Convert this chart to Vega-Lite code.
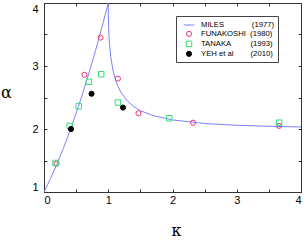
{
  "$schema": "https://vega.github.io/schema/vega-lite/v6.json",
  "width": 257,
  "height": 189,
  "autosize": {"type": "none"},
  "padding": {"left": 44, "top": 3, "right": 4, "bottom": 50},
  "background": "white",
  "config": {
    "view": {"stroke": "#333", "strokeWidth": 1},
    "axis": {
      "domainColor": "#333",
      "tickColor": "#333",
      "tickSize": -3,
      "labelFont": "Liberation Sans",
      "labelFontSize": 11,
      "labelColor": "black",
      "grid": false,
      "titleFont": "DejaVu Serif",
      "titleFontSize": 16,
      "titleFontWeight": "normal",
      "titleColor": "black"
    },
    "legend": {
      "orient": "none",
      "legendX": 132,
      "legendY": 13,
      "title": null,
      "padding": 3,
      "strokeColor": "#444",
      "fillColor": "white",
      "symbolOffset": 4,
      "labelOffset": 6,
      "rowPadding": 0,
      "symbolStrokeWidth": 1,
      "labelFont": "Liberation Sans",
      "labelFontSize": 7.7,
      "labelColor": "black",
      "labelLimit": 200
    }
  },
  "datasets": {
    "miles": [
      {"k": 0, "a": 1}, {"k": 0.1, "a": 1.21}, {"k": 0.2, "a": 1.44}, {"k": 0.3, "a": 1.69},
      {"k": 0.4, "a": 1.96}, {"k": 0.5, "a": 2.25}, {"k": 0.6, "a": 2.56}, {"k": 0.7, "a": 2.89},
      {"k": 0.8, "a": 3.24}, {"k": 0.9, "a": 3.61}, {"k": 1.0, "a": 4.0},
      {"k": 1.001, "a": 3.829}, {"k": 1.005, "a": 3.638}, {"k": 1.01, "a": 3.508},
      {"k": 1.02, "a": 3.342}, {"k": 1.04, "a": 3.138}, {"k": 1.07, "a": 2.95},
      {"k": 1.1, "a": 2.824}, {"k": 1.15, "a": 2.678}, {"k": 1.2, "a": 2.576},
      {"k": 1.3, "a": 2.44}, {"k": 1.4, "a": 2.353}, {"k": 1.5, "a": 2.291},
      {"k": 1.7, "a": 2.212}, {"k": 2.0, "a": 2.144}, {"k": 2.5, "a": 2.087},
      {"k": 3.0, "a": 2.059}, {"k": 3.5, "a": 2.043}, {"k": 4.0, "a": 2.032}
    ],
    "exp": [
      {"series": "FUNAKOSHI", "k": 0.195, "a": 1.45},
      {"series": "FUNAKOSHI", "k": 0.63, "a": 2.86},
      {"series": "FUNAKOSHI", "k": 0.88, "a": 3.45},
      {"series": "FUNAKOSHI", "k": 1.15, "a": 2.8},
      {"series": "FUNAKOSHI", "k": 1.47, "a": 2.25},
      {"series": "FUNAKOSHI", "k": 2.32, "a": 2.1},
      {"series": "FUNAKOSHI", "k": 3.66, "a": 2.05},
      {"series": "TANAKA", "k": 0.18, "a": 1.46},
      {"series": "TANAKA", "k": 0.4, "a": 2.05},
      {"series": "TANAKA", "k": 0.54, "a": 2.36},
      {"series": "TANAKA", "k": 0.7, "a": 2.75},
      {"series": "TANAKA", "k": 0.89, "a": 2.87},
      {"series": "TANAKA", "k": 1.15, "a": 2.42},
      {"series": "TANAKA", "k": 1.95, "a": 2.17},
      {"series": "TANAKA", "k": 3.66, "a": 2.1},
      {"series": "YEH et al", "k": 0.42, "a": 2.0},
      {"series": "YEH et al", "k": 0.74, "a": 2.56},
      {"series": "YEH et al", "k": 1.23, "a": 2.34}
    ]
  },
  "layer": [
    {
      "data": {"name": "miles"},
      "mark": {"type": "line", "color": "#8080ff", "strokeWidth": 1},
      "encoding": {
        "x": {
          "field": "k", "type": "quantitative",
          "scale": {"domain": [0, 4], "nice": false, "zero": false},
          "axis": {
            "orient": "bottom",
            "values": [0, 0.5, 1, 1.5, 2, 2.5, 3, 3.5, 4],
            "labelExpr": "datum.value % 1 === 0 ? format(datum.value, 'd') : ''",
            "labelPadding": 5,
            "title": "κ",
            "titleX": 132,
            "titleY": 38,
            "titleAlign": "center",
            "titleBaseline": "middle"
          }
        },
        "y": {
          "field": "a", "type": "quantitative",
          "scale": {"domain": [1, 4], "nice": false, "zero": false},
          "axis": {
            "orient": "left",
            "values": [1, 1.5, 2, 2.5, 3, 3.5, 4],
            "labelExpr": "datum.value % 1 === 0 ? format(datum.value, 'd') : ''",
            "labelPadding": 9,
            "labelFlush": true,
            "title": "α",
            "titleAngle": 0,
            "titleX": -38,
            "titleY": 89,
            "titleAlign": "center",
            "titleBaseline": "middle"
          }
        }
      }
    },
    {
      "data": {"name": "exp"},
      "mark": {"type": "point", "strokeWidth": 1, "opacity": 1},
      "encoding": {
        "x": {
          "field": "k", "type": "quantitative",
          "axis": {"orient": "top", "values": [0, 0.5, 1, 1.5, 2, 2.5, 3, 3.5, 4], "labels": false, "title": null}
        },
        "y": {
          "field": "a", "type": "quantitative",
          "axis": {"orient": "right", "values": [1, 1.5, 2, 2.5, 3, 3.5, 4], "labels": false, "title": null}
        },
        "stroke": {
          "field": "series", "type": "nominal",
          "scale": {"domain": ["MILES", "FUNAKOSHI", "TANAKA", "YEH et al"], "range": ["#8080ff", "#ee3366", "#33dd77", "black"]},
          "legend": {
            "labelExpr": "datum.label == 'MILES' ? 'MILES\u00a0\u00a0\u00a0\u00a0\u00a0\u00a0\u00a0\u00a0\u00a0\u00a0\u00a0\u00a0\u00a0(1977)' : datum.label == 'FUNAKOSHI' ? 'FUNAKOSHI\u00a0\u00a0(1980)' : datum.label == 'TANAKA' ? 'TANAKA\u00a0\u00a0\u00a0\u00a0\u00a0\u00a0\u00a0\u00a0\u00a0(1993)' : 'YEH et al\u00a0\u00a0\u00a0\u00a0\u00a0\u00a0\u00a0\u00a0(2010)'"
          }
        },
        "fill": {
          "field": "series", "type": "nominal",
          "scale": {"domain": ["MILES", "FUNAKOSHI", "TANAKA", "YEH et al"], "range": ["transparent", "transparent", "transparent", "black"]},
          "legend": {
            "labelExpr": "datum.label == 'MILES' ? 'MILES\u00a0\u00a0\u00a0\u00a0\u00a0\u00a0\u00a0\u00a0\u00a0\u00a0\u00a0\u00a0\u00a0(1977)' : datum.label == 'FUNAKOSHI' ? 'FUNAKOSHI\u00a0\u00a0(1980)' : datum.label == 'TANAKA' ? 'TANAKA\u00a0\u00a0\u00a0\u00a0\u00a0\u00a0\u00a0\u00a0\u00a0(1993)' : 'YEH et al\u00a0\u00a0\u00a0\u00a0\u00a0\u00a0\u00a0\u00a0(2010)'"
          }
        },
        "shape": {
          "field": "series", "type": "nominal",
          "scale": {"domain": ["MILES", "FUNAKOSHI", "TANAKA", "YEH et al"], "range": ["stroke", "circle", "square", "circle"]},
          "legend": {
            "labelExpr": "datum.label == 'MILES' ? 'MILES\u00a0\u00a0\u00a0\u00a0\u00a0\u00a0\u00a0\u00a0\u00a0\u00a0\u00a0\u00a0\u00a0(1977)' : datum.label == 'FUNAKOSHI' ? 'FUNAKOSHI\u00a0\u00a0(1980)' : datum.label == 'TANAKA' ? 'TANAKA\u00a0\u00a0\u00a0\u00a0\u00a0\u00a0\u00a0\u00a0\u00a0(1993)' : 'YEH et al\u00a0\u00a0\u00a0\u00a0\u00a0\u00a0\u00a0\u00a0(2010)'"
          }
        },
        "size": {
          "field": "series", "type": "nominal",
          "scale": {"type": "ordinal", "domain": ["MILES", "FUNAKOSHI", "TANAKA", "YEH et al"], "range": [116, 26, 30, 26]},
          "legend": {
            "labelExpr": "datum.label == 'MILES' ? 'MILES\u00a0\u00a0\u00a0\u00a0\u00a0\u00a0\u00a0\u00a0\u00a0\u00a0\u00a0\u00a0\u00a0(1977)' : datum.label == 'FUNAKOSHI' ? 'FUNAKOSHI\u00a0\u00a0(1980)' : datum.label == 'TANAKA' ? 'TANAKA\u00a0\u00a0\u00a0\u00a0\u00a0\u00a0\u00a0\u00a0\u00a0(1993)' : 'YEH et al\u00a0\u00a0\u00a0\u00a0\u00a0\u00a0\u00a0\u00a0(2010)'"
          }
        }
      }
    }
  ]
}
